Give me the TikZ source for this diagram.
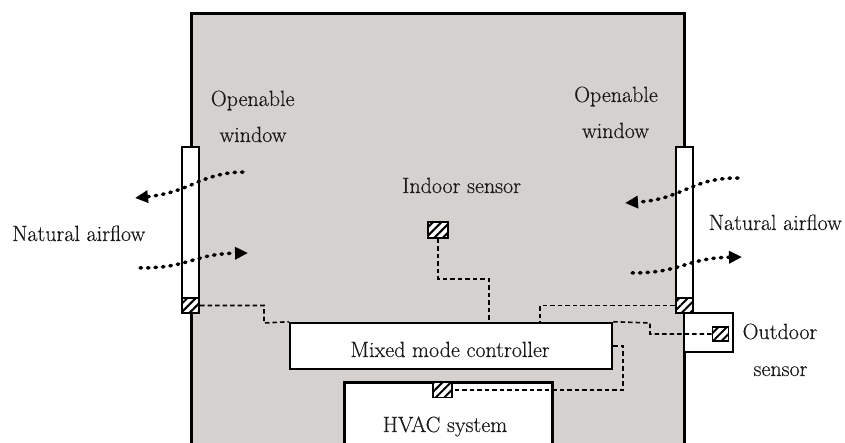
\documentclass[tikz,border=0pt]{standalone}
\usepackage{fontspec}
\setmainfont{Latin Modern Roman}[FakeBold=0.35]
\usetikzlibrary{arrows.meta,patterns.meta,calc}
\definecolor{roomgray}{RGB}{213,209,206}
\definecolor{ink}{RGB}{25,25,25}
\begin{document}
\begin{tikzpicture}[x=1pt,y=-1pt,
  lbl/.style={font=\fontsize{22}{26}\selectfont, text=ink, inner sep=0pt},
  wall/.style={line width=3pt, line join=miter},
  boxed/.style={draw, fill=white, rectangle, inner sep=0pt},
  sensor/.style={draw, rectangle, line width=1.6pt, inner sep=0pt,
    minimum width=17pt, minimum height=14pt, preaction={fill=white},
    pattern={Lines[angle=45,distance=6pt,line width=2pt]}},
  signal/.style={line width=1.6pt, dash pattern=on 4.5pt off 3pt},
  airflow/.style={line width=3.5pt, line cap=round, dash pattern=on 1.5pt off 6pt,
    -{Triangle[length=13pt,width=12pt]}},
]
\path[use as bounding box] (0,0) rectangle (845,443);
\clip (0,0) rectangle (845,443);

% room interior and walls
\fill[roomgray] (191,14) rectangle (684,460);
\draw[wall] (191,460) -- (191,14) -- (684,14) -- (684,460);

% openable windows with their sensors
\node[boxed, line width=2pt, minimum width=17pt, minimum height=166pt] (winL) at (190.5,230) {};
\node[sensor, line width=2pt, minimum width=17pt, minimum height=15pt] (sL) at (190.5,305.5) {};
\node[boxed, line width=2pt, minimum width=17pt, minimum height=166pt] (winR) at (684,230) {};
\node[sensor, line width=2pt, minimum width=17pt, minimum height=15pt] (sR) at (684,305.5) {};

% controller, HVAC system, sensors
\node[boxed, line width=2.5pt, minimum width=322pt, minimum height=46pt] (ctrl) at (451,346) {};
\node[boxed, line width=3pt, minimum width=208pt, minimum height=90pt] (hvac) at (448,427) {};
\node[sensor, minimum width=19pt, minimum height=15pt] (hvS) at (442.5,390) {};
\node[boxed, line width=2.5pt, minimum width=49pt, minimum height=39pt] (obox) at (708.5,332.5) {};
\node[sensor, minimum width=16pt, minimum height=14pt] (outS) at (720.5,334) {};
\node[sensor, minimum width=20pt, minimum height=16pt] (inS) at (438,230) {};

% signal wiring
\coordinate (kIn) at (489,279);
\coordinate (kR) at (540,302);
\draw[signal] (sL.east) -| (264,323) -- (ctrl.north west);
\draw[signal] (inS.south) |- (kIn) -- (kIn |- ctrl.north);
\draw[signal] (sR.west) -| (kR |- ctrl.north);
\draw[signal] (outS.west) -| (650,323) -- (ctrl.north east);
\draw[signal] (ctrl.east) -| (623,390) -- (hvS.east);

% natural airflow through the windows
\draw[airflow] (243,172) .. controls (200,173) and (192,192) .. (135,198);
\draw[airflow] (140,268) .. controls (190,268) and (192,254) .. (248,253);
\draw[airflow] (738,178) .. controls (690,178) and (684,199) .. (625,203);
\draw[airflow] (632,273) .. controls (682,273) and (686,258) .. (742,257);

% labels
\node[lbl, anchor=base west] (nafL) at (12,241) {Natural airflow};
\node[lbl, anchor=base east] (nafR) at (842,230) {Natural airflow};
\node[lbl, anchor=base] (owL1) at (252.7,106) {Openable};
\node[lbl, anchor=base] (owL2) at (253,142) {window};
\node[lbl, anchor=base] (owR1) at (616,102) {Openable};
\node[lbl, anchor=base] (owR2) at (615.5,138) {window};
\node[lbl, anchor=base west] (inLbl) at (402,193) {Indoor sensor};
\node[lbl, anchor=base] (ctrlLbl) at (450,357) {Mixed mode controller};
\node[lbl, anchor=base] (hvLbl) at (445,432) {HVAC system};
\node[lbl, anchor=base] (odL1) at (780,339) {Outdoor};
\node[lbl, anchor=base] (odL2) at (780.5,376) {sensor};
\end{tikzpicture}
\end{document}
